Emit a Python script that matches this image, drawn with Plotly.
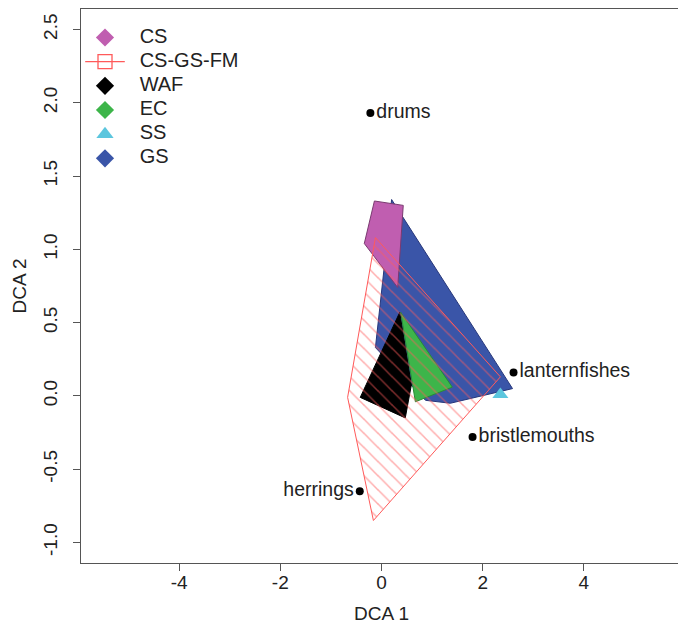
import plotly.graph_objects as go

# ---- data (DCA scores) ----
cs_x = [-0.14, 0.43, 0.32, -0.34]
cs_y = [1.33, 1.30, 0.74, 1.04]

gs_x = [0.20, 2.59, 1.36, 0.87, -0.12]
gs_y = [1.34, 0.05, -0.05, -0.03, 0.33]

waf_x = [0.36, 0.59, 0.47, -0.42]
waf_y = [0.57, 0.075, -0.15, -0.01]

ec_x = [0.38, 1.40, 0.67]
ec_y = [0.57, 0.06, -0.04]

ss_x = [2.35]
ss_y = [0.01]

fm_x = [-0.12, 2.35, -0.16, -0.67]
fm_y = [1.08, 0.13, -0.85, -0.01]

species = ["drums", "lanternfishes", "bristlemouths", "herrings"]
sp_x = [-0.22, 2.61, 1.80, -0.43]
sp_y = [1.93, 0.16, -0.28, -0.65]
sp_pos = ["middle right", "middle right", "middle right", "middle left"]

x_ticks = [-4, -2, 0, 2, 4]
y_ticks = [-1.0, -0.5, 0.0, 0.5, 1.0, 1.5, 2.0, 2.5]

legend_names = ["CS", "CS-GS-FM", "WAF", "EC", "SS", "GS"]

# ---- colours / styles ----
C_CS = "#C05EB0"
C_GS = "#3A55A8"
C_WAF = "#000000"
C_EC = "#3DB54A"
C_SS = "#5CC6DE"
C_FM = "#FF5A5A"

legend_colors = [C_CS, C_FM, C_WAF, C_EC, C_SS, C_GS]
legend_symbols = ["diamond", "square-open", "diamond", "diamond", "triangle-up", "diamond"]
legend_sizes = [14, 14, 14, 14, 15, 14]

FONT = "Liberation Sans, Arial, sans-serif"
TXT = "#222222"


def closed(a):
    return list(a) + [a[0]]


fig = go.Figure()

fig.add_trace(go.Scatter(x=closed(gs_x), y=closed(gs_y), mode="lines", fill="toself",
                         fillcolor=C_GS, line=dict(color="#26367A", width=1),
                         showlegend=False, hoverinfo="skip"))
fig.add_trace(go.Scatter(x=closed(cs_x), y=closed(cs_y), mode="lines", fill="toself",
                         fillcolor=C_CS, line=dict(color="#7A3A70", width=1),
                         showlegend=False, hoverinfo="skip"))
fig.add_trace(go.Scatter(x=closed(waf_x), y=closed(waf_y), mode="lines", fill="toself",
                         fillcolor=C_WAF, line=dict(color="#000000", width=1),
                         showlegend=False, hoverinfo="skip"))
fig.add_trace(go.Scatter(x=closed(ec_x), y=closed(ec_y), mode="lines", fill="toself",
                         fillcolor=C_EC, line=dict(color="#2A8A35", width=1),
                         showlegend=False, hoverinfo="skip"))
fig.add_trace(go.Scatter(x=ss_x, y=ss_y, mode="markers",
                         marker=dict(symbol="triangle-up", size=14, color=C_SS),
                         showlegend=False, hoverinfo="skip"))
fig.add_trace(go.Scatter(x=closed(fm_x), y=closed(fm_y), mode="lines", fill="toself",
                         fillcolor="rgba(0,0,0,0)",
                         fillpattern=dict(shape="\\", fgcolor=C_FM, bgcolor="rgba(0,0,0,0)",
                                          size=10, solidity=0.15),
                         line=dict(color=C_FM, width=1),
                         showlegend=False, hoverinfo="skip"))

fig.add_trace(go.Scatter(x=sp_x, y=sp_y, mode="markers+text", text=species,
                         textposition=sp_pos,
                         textfont=dict(family=FONT, size=19.5, color=TXT),
                         marker=dict(symbol="circle", size=8, color="#000000"),
                         showlegend=False, hoverinfo="skip"))

# ---- legend (drawn on a hidden overlay axis, one row per legend name) ----
for i, name in enumerate(legend_names):
    mk = dict(symbol=legend_symbols[i], size=legend_sizes[i], color=legend_colors[i])
    kw = dict(x=[0], y=[name], mode="markers", marker=mk, xaxis="x2", yaxis="y2",
              showlegend=False, hoverinfo="skip", cliponaxis=False)
    if legend_symbols[i] == "square-open":
        mk["line"] = dict(width=1.3, color=legend_colors[i])
        kw["error_x"] = dict(type="constant", value=0.6, width=0, thickness=1.3,
                             color=legend_colors[i])
    fig.add_trace(go.Scatter(**kw))
fig.add_trace(go.Scatter(x=[1.05] * len(legend_names), y=legend_names, mode="text",
                         text=legend_names, textposition="middle right",
                         textfont=dict(family=FONT, size=20, color=TXT),
                         xaxis="x2", yaxis="y2", showlegend=False, hoverinfo="skip",
                         cliponaxis=False))

axis_common = dict(showgrid=False, zeroline=False, showline=True, mirror=True,
                   linecolor="#555555", linewidth=1, ticks="outside", ticklen=7,
                   tickcolor="#555555", tickfont=dict(family=FONT, size=19, color=TXT),
                   automargin=False)

# the page body adds an 8 px offset, so the figure is 8 px smaller than the window
fig.update_layout(
    width=678, height=623,
    margin=dict(l=73, r=4, t=1, b=68),
    paper_bgcolor="white", plot_bgcolor="white",
    font=dict(family=FONT, size=19, color=TXT),
    showlegend=False,
    xaxis=dict(range=[-5.94, 5.94], tickvals=x_ticks, ticktext=[str(v) for v in x_ticks],
               ticklabelstandoff=-5,
               title=dict(text="DCA 1", font=dict(family=FONT, size=19, color=TXT), standoff=14),
               **axis_common),
    yaxis=dict(range=[-1.14, 2.64], tickvals=y_ticks, ticktext=[f"{v:.1f}" for v in y_ticks],
               tickangle=-90, ticklabelstandoff=8,
               title=dict(text="DCA 2", font=dict(family=FONT, size=19, color=TXT), standoff=8),
               **axis_common),
    xaxis2=dict(overlaying="x", anchor="y2", range=[-0.7273, 17.485], visible=False,
                fixedrange=True),
    yaxis2=dict(overlaying="y", anchor="x2", type="category", categoryarray=legend_names,
                range=[21.75, -1.18], visible=False, fixedrange=True),
)

fig.write_html("out.html")
